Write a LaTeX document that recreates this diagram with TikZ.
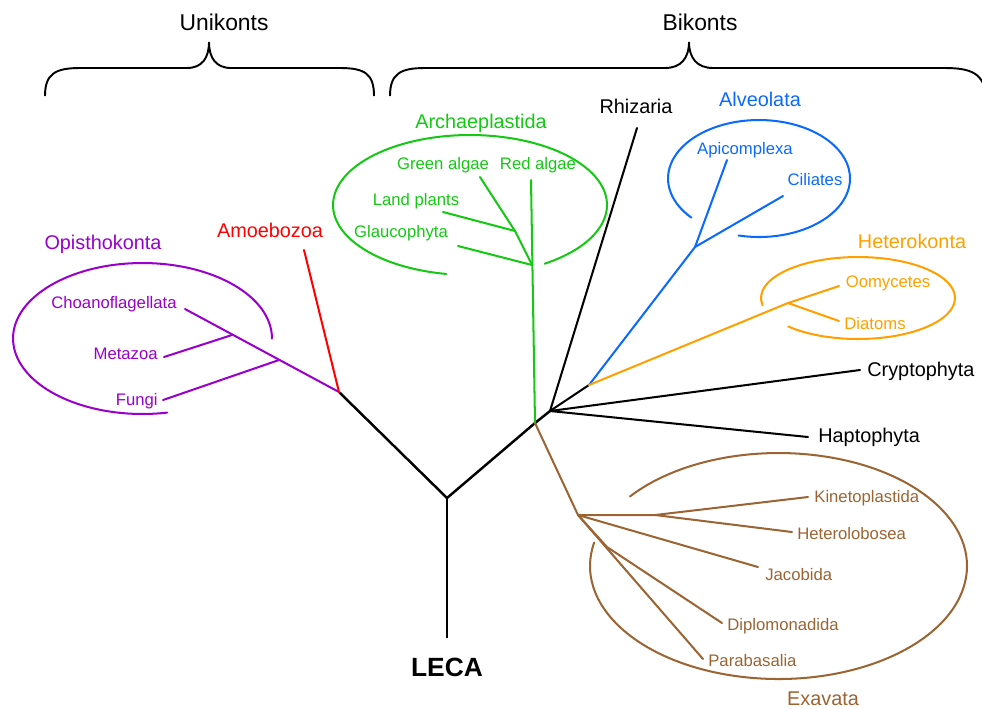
\documentclass[tikz,border=0pt]{standalone}
\usepackage{fontspec}
\setmainfont{Liberation Sans}
\definecolor{opis}{RGB}{153,0,204}
\definecolor{amoe}{RGB}{255,0,0}
\definecolor{arch}{RGB}{20,200,20}
\definecolor{alve}{RGB}{10,105,255}
\definecolor{hete}{RGB}{255,160,0}
\definecolor{exca}{RGB}{155,100,50}

\begin{document}
\begin{tikzpicture}[x=0.02cm, y=-0.02cm,
    branch/.style={line width=1.15pt, line cap=round},
    trunk/.style={line width=1.4pt},
    small/.style={inner sep=0pt, yshift=-0.04cm, font=\fontsize{9.5}{11}\selectfont},
    title/.style={inner sep=0pt, yshift=-0.04cm, font=\fontsize{11.3}{13}\selectfont},
    kont/.style={inner sep=0pt, yshift=-0.04cm, font=\fontsize{13}{15}\selectfont}]
    \useasboundingbox (0,0) rectangle (982,708);

    % braces
    \node[kont] (unik) at (224,20) {Unikonts};
    \node[kont] (bik) at (700,20) {Bikonts};
    \draw[line width=1.1pt] (45,96) .. controls (45,74) and (55,68) .. (80,68) -- (187,68)
        .. controls (202,68) and (209,58) .. (209,42) .. controls (209,58) and (216,68) .. (231,68)
        -- (340,68) .. controls (365,68) and (374,74) .. (374,96);
    \draw[line width=1.1pt] (390,96) .. controls (390,74) and (400,68) .. (425,68) -- (665,68)
        .. controls (681,68) and (689,58) .. (689,42) .. controls (689,58) and (697,68) .. (713,68)
        -- (945,68) .. controls (972,68) and (984,74) .. (986,96);

    % main points
    \coordinate (root) at (447,638);
    \coordinate (hub) at (447,498);
    \coordinate (uni) at (339,392);
    \coordinate (bi) at (535,423);
    \coordinate (bihub) at (550,411);
    \coordinate (sar) at (589,385);
    \coordinate (exhub) at (578,515);

    \node[inner sep=0pt, yshift=-0.04cm, font=\fontsize{15}{17}\selectfont\bfseries] (leca) at (447,665) {LECA};
    \draw[trunk] (root) -- (hub);
    \draw[trunk] (hub) -- (uni);
    \draw[trunk] (hub) -- (bi);
    \draw[trunk] (bi) -- (bihub);

    % Opisthokonta
    \coordinate (opend) at (185,309);
    \coordinate (opa) at (232,335);
    \coordinate (opb) at (279,360);
    \coordinate (metend) at (164,357);
    \coordinate (funend) at (163,400);
    \node[title, text=opis] (opis) at (103,242) {Opisthokonta};
    \node[small, text=opis, anchor=east] (choano) at (177,302) {Choanoflagellata};
    \node[small, text=opis, anchor=east] (meta) at (158,352) {Metazoa};
    \node[small, text=opis, anchor=east] (fungi) at (158,399) {Fungi};
    \draw[branch, opis] (uni) -- (opend);
    \draw[branch, opis] (opa) -- (metend);
    \draw[branch, opis] (opb) -- (funend);
    \draw[branch, opis] (142.5,338.5) ++(0:2.59cm and 1.51cm) arc[start angle=0, end angle=281, x radius=2.59cm, y radius=1.51cm];

    % Amoebozoa
    \coordinate (amend) at (304,250);
    \node[title, text=amoe] (amoe) at (270,228) {Amoebozoa};
    \draw[branch, amoe] (uni) -- (amend);

    % Archaeplastida
    \coordinate (grtop) at (531,180);
    \coordinate (glpt) at (532,265);
    \coordinate (lppt) at (515,231);
    \coordinate (gaend) at (480,177);
    \coordinate (lpend) at (443,212);
    \coordinate (glend) at (458,246);
    \node[title, text=arch] (archae) at (481,121) {Archaeplastida};
    \node[small, text=arch] (green) at (443,163) {Green algae};
    \node[small, text=arch] (red) at (538,163) {Red algae};
    \node[small, text=arch] (land) at (416,199) {Land plants};
    \node[small, text=arch] (glauc) at (401,231) {Glaucophyta};
    \draw[branch, arch] (bi) -- (grtop);
    \draw[branch, arch] (glpt) -- (lppt) -- (gaend);
    \draw[branch, arch] (lppt) -- (lpend);
    \draw[branch, arch] (glpt) -- (glend);
    \draw[branch, arch] (470,205) ++(-57:2.74cm and 1.4cm) arc[start angle=-57, end angle=260, x radius=2.74cm, y radius=1.4cm];

    % Rhizaria, Cryptophyta, Haptophyta
    \coordinate (rhend) at (637,128);
    \coordinate (crend) at (860,370);
    \coordinate (haend) at (808,437);
    \node[title] (rhiz) at (636,104) {Rhizaria};
    \node[title, anchor=west] (crypto) at (867,369) {Cryptophyta};
    \node[title, anchor=west] (hapto) at (818,435) {Haptophyta};
    \draw[branch] (bihub) -- (rhend);
    \draw[branch] (bihub) -- (crend);
    \draw[branch] (bihub) -- (haend);
    \draw[branch] (bihub) -- (sar);

    % Alveolata
    \coordinate (alv) at (695,247);
    \coordinate (apiend) at (727,160);
    \coordinate (cilend) at (783,196);
    \node[title, text=alve] (alveo) at (760,97) {Alveolata};
    \node[small, text=alve] (apic) at (745,148) {Apicomplexa};
    \node[small, text=alve] (cili) at (815,178) {Ciliates};
    \draw[branch, alve] (sar) -- (alv);
    \draw[branch, alve] (alv) -- (apiend);
    \draw[branch, alve] (alv) -- (cilend);
    \draw[branch, alve] (759,178.5) ++(-103:1.82cm and 1.17cm) arc[start angle=-103, end angle=222, x radius=1.82cm, y radius=1.17cm];

    % Heterokonta
    \coordinate (het) at (788,303);
    \coordinate (oomend) at (839,286);
    \coordinate (diaend) at (839,321);
    \node[title, text=hete] (heter) at (912,239) {Heterokonta};
    \node[small, text=hete] (oomy) at (888,281) {Oomycetes};
    \node[small, text=hete] (diat) at (875,322) {Diatoms};
    \draw[branch, hete] (sar) -- (het);
    \draw[branch, hete] (het) -- (oomend);
    \draw[branch, hete] (het) -- (diaend);
    \draw[branch, hete] (858,298) ++(224:1.94cm and 0.82cm) arc[start angle=224, end angle=550, x radius=1.94cm, y radius=0.82cm];

    % Excavata
    \coordinate (exmid) at (655,515);
    \coordinate (kinend) at (808,497);
    \coordinate (hetlend) at (792,532);
    \coordinate (jacend) at (758,567);
    \coordinate (dipsplit) at (607,547);
    \coordinate (dipend) at (722,623);
    \coordinate (parend) at (703,659);
    \node[title, text=exca] (exav) at (823,697) {Exavata};
    \node[small, text=exca, anchor=west] (kine) at (814,496) {Kinetoplastida};
    \node[small, text=exca, anchor=west] (hetl) at (797,532) {Heterolobosea};
    \node[small, text=exca, anchor=west] (jaco) at (765,573) {Jacobida};
    \node[small, text=exca, anchor=west] (dipl) at (727,624) {Diplomonadida};
    \node[small, text=exca, anchor=west] (para) at (708,659) {Parabasalia};
    \draw[branch, exca] (bi) -- (exhub);
    \draw[branch, exca] (exhub) -- (exmid) -- (kinend);
    \draw[branch, exca] (exmid) -- (hetlend);
    \draw[branch, exca] (exhub) -- (jacend);
    \draw[branch, exca] (exhub) -- (dipsplit) -- (dipend);
    \draw[branch, exca] (exhub) -- (parend);
    \draw[branch, exca] (778.5,566) ++(168:3.77cm and 2.26cm) arc[start angle=168, end angle=502, x radius=3.77cm, y radius=2.26cm];
\end{tikzpicture}
\end{document}
